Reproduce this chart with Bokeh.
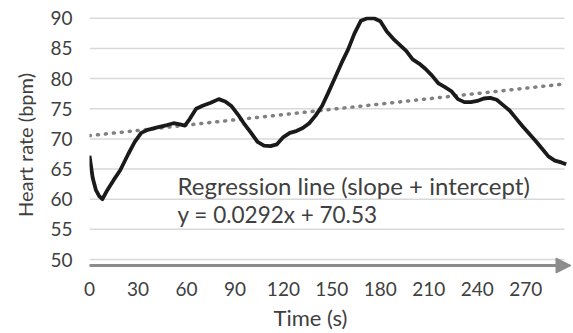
from bokeh.plotting import figure
from bokeh.models import Range1d, Label, Arrow, NormalHead, FixedTicker, Title
from bokeh.embed import file_html
from bokeh.resources import INLINE

time_s = [0, 2, 4, 6, 8, 11, 15, 19, 24, 28, 32, 36, 42, 48, 52, 56, 59, 62, 66, 70,
          75, 80, 84, 88, 92, 96, 100, 104, 108, 112, 116, 120, 124, 128, 132, 136, 140,
          144, 148, 152, 156, 160, 164, 168, 172, 176, 180, 184, 188, 192, 196, 200, 204,
          208, 212, 216, 220, 224, 228, 232, 236, 240, 244, 248, 252, 256, 260, 264, 268,
          272, 276, 280, 284, 288, 292, 295]
heart_rate = [67.2, 63.5, 61.5, 60.5, 60.0, 61.5, 63.2, 64.8, 67.5, 69.5, 71.0, 71.5, 71.9,
              72.3, 72.6, 72.4, 72.2, 73.3, 75.0, 75.5, 76.0, 76.6, 76.2, 75.4, 74.0, 72.4,
              71.0, 69.5, 68.9, 68.8, 69.1, 70.3, 71.0, 71.3, 71.8, 72.6, 73.9, 75.5, 77.8,
              80.2, 82.6, 84.8, 87.5, 89.6, 90.0, 90.0, 89.5, 87.8, 86.6, 85.6, 84.6, 83.2,
              82.5, 81.6, 80.5, 79.2, 78.6, 77.9, 76.6, 76.1, 76.1, 76.3, 76.7, 76.8, 76.5,
              75.6, 74.7, 73.4, 72.1, 70.9, 69.7, 68.4, 67.1, 66.4, 66.1, 65.8]

slope = 0.0292
intercept = 70.53
reg_x = [0, 295]
reg_y = [intercept + slope * x for x in reg_x]

x_ticks = [0, 30, 60, 90, 120, 150, 180, 210, 240, 270]
y_ticks = [50, 55, 60, 65, 70, 75, 80, 85, 90]

FONT = "Lato"
TXT = "#404040"
GRID_X_END = 294
AXIS_Y = 49.0

p = figure(width=573, height=333, output_backend="svg", toolbar_location=None,
           x_range=Range1d(0, 298.3), y_range=Range1d(47.68, 90.3),
           min_border_left=89, min_border_right=2, min_border_top=16, min_border_bottom=60)
p.outline_line_color = None
p.background_fill_color = "white"
p.border_fill_color = "white"
p.xgrid.visible = False
p.ygrid.visible = False

# horizontal gridlines (end before the arrow head)
p.segment(x0=[0] * len(y_ticks), y0=y_ticks, x1=[GRID_X_END] * len(y_ticks), y1=y_ticks,
          line_color="#d9d9d9", line_width=1.5)

# axes
p.xaxis.ticker = FixedTicker(ticks=x_ticks)
p.yaxis.ticker = FixedTicker(ticks=y_ticks)
for ax in (p.xaxis[0], p.yaxis[0]):
    ax.major_tick_line_color = None
    ax.minor_tick_line_color = None
    ax.major_label_text_font = FONT
    ax.major_label_text_font_size = "19px"
    ax.major_label_text_color = TXT
    ax.axis_label_text_font = FONT
    ax.axis_label_text_color = TXT
    ax.axis_label_text_font_style = "normal"
    ax.axis_line_color = None
p.yaxis.axis_label = "Heart rate (bpm)"
p.yaxis.axis_label_text_font_size = "20px"
p.xaxis.major_label_standoff = 2
p.yaxis.major_label_standoff = 11
p.yaxis.axis_label_standoff = 10

p.add_layout(Title(text="Time (s)", text_font=FONT, text_font_size="22px",
                   text_color=TXT, text_font_style="normal", align="left",
                   offset=184, standoff=6), "below")

# regression line
p.line(reg_x, reg_y, line_color="#808080", line_width=3.5, line_dash="1 7", line_cap="round")

# heart rate curve
p.line(time_s, heart_rate, line_color="#1a1a1a", line_width=3.8, line_join="round")

# x axis with arrow
arrow = Arrow(end=NormalHead(size=15, fill_color="#8c8c8c", line_color="#8c8c8c"),
              x_start=-1.2, y_start=AXIS_Y, x_end=298.0, y_end=AXIS_Y,
              line_color="#8c8c8c", line_width=3)
p.add_layout(arrow)

p.add_layout(Label(x=54.5, y=62.27, text="Regression line (slope + intercept)",
                   text_font=FONT, text_font_size="24px", text_color=TXT,
                   text_baseline="alphabetic"))
p.add_layout(Label(x=54.5, y=57.46, text="y = 0.0292x + 70.53",
                   text_font=FONT, text_font_size="22.5px", text_color=TXT,
                   text_baseline="alphabetic"))

open("out.html", "w").write(file_html(p, INLINE))
